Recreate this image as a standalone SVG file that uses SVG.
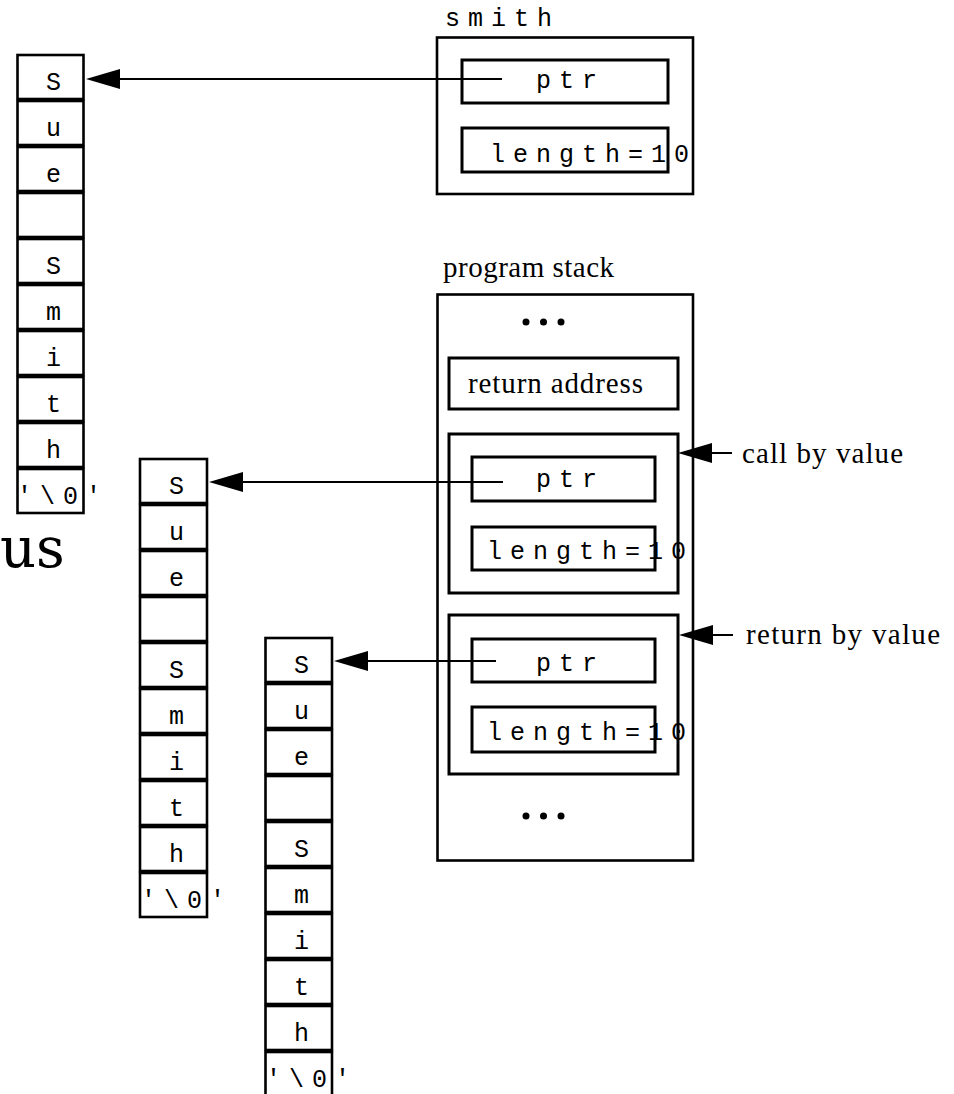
<svg xmlns="http://www.w3.org/2000/svg" width="954" height="1094" viewBox="0 0 954 1094">
<style>
.bg{fill:#fff}
.cell{fill:#fff;stroke:#000;stroke-width:2.6}
.box{fill:#fff;stroke:#000;stroke-width:2.6}
.frame{fill:none;stroke:#000;stroke-width:3}
.fld{fill:none;stroke:#000;stroke-width:3}
.ch{font-family:"Liberation Mono","Courier New",monospace;font-size:25px;fill:#000;text-anchor:middle}
.mono{font-family:"Liberation Mono","Courier New",monospace;font-size:25px;fill:#000;letter-spacing:8px}
.serif{font-family:"Liberation Serif","Times New Roman",serif;font-size:29px;fill:#000}
.conn{fill:none;stroke:#000;stroke-width:2}
</style>
<defs>
<marker id="ah" markerUnits="userSpaceOnUse" markerWidth="36" markerHeight="22" refX="0" refY="10" orient="auto" overflow="visible">
<path d="M0,0 L34,10 L0,20 Z" fill="#000"/>
</marker>
</defs>
<rect class="bg" x="0" y="0" width="954" height="1094"/>

<text x="0" y="567" font-family="'DejaVu Serif','Liberation Serif',serif" font-size="56" fill="#000">us</text>

<g id="array1">
<rect class="cell" x="17.5" y="55" width="66" height="44"/>
<rect class="cell" x="17.5" y="101" width="66" height="44"/>
<rect class="cell" x="17.5" y="147" width="66" height="44"/>
<rect class="cell" x="17.5" y="193" width="66" height="44"/>
<rect class="cell" x="17.5" y="239" width="66" height="44"/>
<rect class="cell" x="17.5" y="285" width="66" height="44"/>
<rect class="cell" x="17.5" y="331" width="66" height="44"/>
<rect class="cell" x="17.5" y="377" width="66" height="44"/>
<rect class="cell" x="17.5" y="423" width="66" height="44"/>
<rect class="cell" x="17.5" y="469" width="66" height="44"/>
<text class="ch" x="53.5" y="90">S</text>
<text class="ch" x="53.5" y="136">u</text>
<text class="ch" x="53.5" y="182">e</text>
<text class="ch" x="53.5" y="274">S</text>
<text class="ch" x="53.5" y="320">m</text>
<text class="ch" x="53.5" y="366">i</text>
<text class="ch" x="53.5" y="412">t</text>
<text class="ch" x="53.5" y="458">h</text>
<text class="mono" x="17" y="504">'\0'</text>
</g>

<g id="array2">
<rect class="cell" x="140" y="459" width="67" height="44"/>
<rect class="cell" x="140" y="505" width="67" height="44"/>
<rect class="cell" x="140" y="551" width="67" height="44"/>
<rect class="cell" x="140" y="597" width="67" height="44"/>
<rect class="cell" x="140" y="643" width="67" height="44"/>
<rect class="cell" x="140" y="689" width="67" height="44"/>
<rect class="cell" x="140" y="735" width="67" height="44"/>
<rect class="cell" x="140" y="781" width="67" height="44"/>
<rect class="cell" x="140" y="827" width="67" height="44"/>
<rect class="cell" x="140" y="873" width="67" height="44"/>
<text class="ch" x="176.5" y="494">S</text>
<text class="ch" x="176.5" y="540">u</text>
<text class="ch" x="176.5" y="586">e</text>
<text class="ch" x="176.5" y="678">S</text>
<text class="ch" x="176.5" y="724">m</text>
<text class="ch" x="176.5" y="770">i</text>
<text class="ch" x="176.5" y="816">t</text>
<text class="ch" x="176.5" y="862">h</text>
<text class="mono" x="141" y="908">'\0'</text>
</g>

<g id="array3">
<rect class="cell" x="265.5" y="638" width="66.5" height="44"/>
<rect class="cell" x="265.5" y="684" width="66.5" height="44"/>
<rect class="cell" x="265.5" y="730" width="66.5" height="44"/>
<rect class="cell" x="265.5" y="776" width="66.5" height="44"/>
<rect class="cell" x="265.5" y="822" width="66.5" height="44"/>
<rect class="cell" x="265.5" y="868" width="66.5" height="44"/>
<rect class="cell" x="265.5" y="914" width="66.5" height="44"/>
<rect class="cell" x="265.5" y="960" width="66.5" height="44"/>
<rect class="cell" x="265.5" y="1006" width="66.5" height="44"/>
<rect class="cell" x="265.5" y="1052" width="66.5" height="44"/>
<text class="ch" x="301.5" y="673">S</text>
<text class="ch" x="301.5" y="719">u</text>
<text class="ch" x="301.5" y="765">e</text>
<text class="ch" x="301.5" y="857">S</text>
<text class="ch" x="301.5" y="903">m</text>
<text class="ch" x="301.5" y="949">i</text>
<text class="ch" x="301.5" y="995">t</text>
<text class="ch" x="301.5" y="1041">h</text>
<text class="mono" x="266" y="1087">'\0'</text>
</g>

<g id="smith">
<text class="mono" x="445" y="26">smith</text>
<rect class="box" x="437" y="37.5" width="256" height="156.5"/>
<rect class="fld" x="462" y="60" width="206" height="43"/>
<text class="mono" x="536" y="88">ptr</text>
<rect class="fld" x="462" y="128" width="206" height="44"/>
<text class="mono" x="490" y="162">length=10</text>
</g>

<g id="program-stack">
<text class="serif" x="443" y="277" textLength="171" lengthAdjust="spacing">program stack</text>
<rect class="box" x="437.5" y="294.5" width="255.5" height="566"/>
<circle cx="526" cy="322" r="3.5"/>
<circle cx="543.5" cy="322" r="3.5"/>
<circle cx="561" cy="322" r="3.5"/>
<circle cx="526" cy="816" r="3.5"/>
<circle cx="543.5" cy="816" r="3.5"/>
<circle cx="561" cy="816" r="3.5"/>
</g>

<g id="return-address">
<rect class="frame" x="449" y="358" width="229" height="51"/>
<text class="serif" x="468" y="393" textLength="175" lengthAdjust="spacing">return address</text>
</g>

<g id="call-frame">
<rect class="frame" x="449" y="434" width="229" height="159"/>
<rect class="fld" x="472" y="457" width="183" height="44"/>
<text class="mono" x="536" y="487">ptr</text>
<rect class="fld" x="472" y="527" width="183" height="43"/>
<text class="mono" x="487" y="559">length=10</text>
</g>

<g id="return-frame">
<rect class="frame" x="449" y="615" width="229" height="159"/>
<rect class="fld" x="472" y="639" width="183" height="43"/>
<text class="mono" x="536" y="671">ptr</text>
<rect class="fld" x="472" y="707" width="183" height="45"/>
<text class="mono" x="487" y="740">length=10</text>
</g>

<g id="labels">
<text class="serif" x="742" y="463" textLength="161" lengthAdjust="spacing">call by value</text>
<text class="serif" x="746" y="644" textLength="194" lengthAdjust="spacing">return by value</text>
</g>

<g id="connectors">
<path class="conn" d="M502,79 L120,79" marker-end="url(#ah)"/>
<path class="conn" d="M503,482 L243,482" marker-end="url(#ah)"/>
<path class="conn" d="M496,661 L368,661" marker-end="url(#ah)"/>
<path class="conn" d="M732,453 L712,453" marker-end="url(#ah)"/>
<path class="conn" d="M733,635 L713,635" marker-end="url(#ah)"/>
</g>
</svg>
